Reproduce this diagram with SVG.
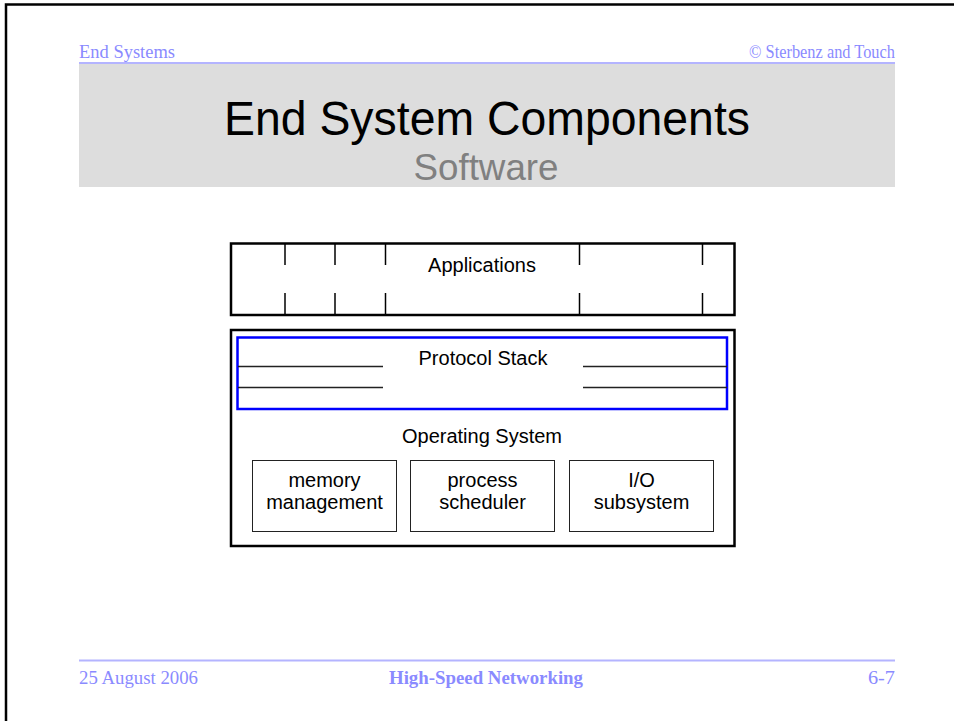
<svg xmlns="http://www.w3.org/2000/svg" width="954" height="721" viewBox="0 0 954 721">
  <style>
    .hdr { font-family: "Liberation Serif", "Times New Roman", serif; font-size: 18.5px; fill: #8a8aff; }
    .rule { stroke: #b4b4ff; stroke-width: 2; }
    .lbl { font-family: "Liberation Sans", Arial, sans-serif; font-size: 20px; fill: #000; text-anchor: middle; }
    .outer { fill: #fff; stroke: #000; stroke-width: 2.5; }
    .tick { stroke: #000; stroke-width: 1.5; }
    .sub { fill: #fff; stroke: #222; stroke-width: 1; }
  </style>

  <rect x="0" y="0" width="954" height="721" fill="#fff"/>
  <!-- slide frame (top and left edges visible) -->
  <path d="M6 721 V4.5 H954" fill="none" stroke="#000" stroke-width="2.5"/>

  <!-- running header -->
  <text class="hdr" x="79" y="58" textLength="96" lengthAdjust="spacingAndGlyphs">End Systems</text>
  <text class="hdr" x="749" y="58" textLength="146" lengthAdjust="spacingAndGlyphs">© Sterbenz and Touch</text>
  <line class="rule" x1="79" y1="63" x2="895" y2="63"/>

  <!-- title band -->
  <rect x="79" y="64" width="816" height="123" fill="#dddddd"/>
  <text x="487" y="135" font-family="Liberation Sans, Arial, sans-serif" font-size="49" fill="#000" text-anchor="middle" textLength="526" lengthAdjust="spacingAndGlyphs">End System Components</text>
  <text x="486" y="180" font-family="Liberation Sans, Arial, sans-serif" font-size="37" fill="#808080" text-anchor="middle" textLength="145" lengthAdjust="spacingAndGlyphs">Software</text>

  <!-- Applications layer -->
  <g id="applications">
    <rect class="outer" x="231" y="243.5" width="503.5" height="71.5"/>
    <g class="tick">
      <line x1="285" y1="243.5" x2="285" y2="265"/>
      <line x1="285" y1="293" x2="285" y2="315"/>
      <line x1="335" y1="243.5" x2="335" y2="265"/>
      <line x1="335" y1="293" x2="335" y2="315"/>
      <line x1="385.5" y1="243.5" x2="385.5" y2="265"/>
      <line x1="385.5" y1="293" x2="385.5" y2="315"/>
      <line x1="579.5" y1="243.5" x2="579.5" y2="265"/>
      <line x1="579.5" y1="293" x2="579.5" y2="315"/>
      <line x1="702.5" y1="243.5" x2="702.5" y2="265"/>
      <line x1="702.5" y1="293" x2="702.5" y2="315"/>
    </g>
    <text class="lbl" x="482" y="272">Applications</text>
  </g>

  <!-- Operating System layer -->
  <g id="operating-system">
    <rect class="outer" x="231" y="330" width="503.5" height="216"/>
    <text class="lbl" x="482" y="443">Operating System</text>
  </g>

  <!-- Protocol stack inside the OS -->
  <g id="protocol-stack">
    <rect x="237.5" y="337.5" width="489.5" height="71.5" fill="none" stroke="#0000ff" stroke-width="2.5"/>
    <g stroke="#222" stroke-width="1.5">
      <line x1="238" y1="366.5" x2="383" y2="366.5"/>
      <line x1="238" y1="387.5" x2="383" y2="387.5"/>
      <line x1="583" y1="366.5" x2="727" y2="366.5"/>
      <line x1="583" y1="387.5" x2="727" y2="387.5"/>
    </g>
    <text class="lbl" x="483" y="365">Protocol Stack</text>
  </g>

  <g id="memory-management">
    <rect class="sub" x="252.5" y="460.5" width="144" height="71"/>
    <text class="lbl" x="324.5" y="487">memory</text>
    <text class="lbl" x="324.5" y="509">management</text>
  </g>

  <g id="process-scheduler">
    <rect class="sub" x="410.5" y="460.5" width="144" height="71"/>
    <text class="lbl" x="482.5" y="487">process</text>
    <text class="lbl" x="482.5" y="509">scheduler</text>
  </g>

  <g id="io-subsystem">
    <rect class="sub" x="569.5" y="460.5" width="144" height="71"/>
    <text class="lbl" x="641.5" y="487">I/O</text>
    <text class="lbl" x="641.5" y="509">subsystem</text>
  </g>

  <g id="connectors"/>

  <!-- running footer -->
  <line class="rule" x1="79" y1="660.5" x2="895" y2="660.5"/>
  <text class="hdr" x="79" y="684" textLength="119" lengthAdjust="spacingAndGlyphs">25 August 2006</text>
  <text class="hdr" x="389" y="684" font-weight="bold" textLength="194" lengthAdjust="spacingAndGlyphs">High-Speed Networking</text>
  <text class="hdr" x="868" y="684" textLength="27" lengthAdjust="spacingAndGlyphs">6-7</text>
</svg>
